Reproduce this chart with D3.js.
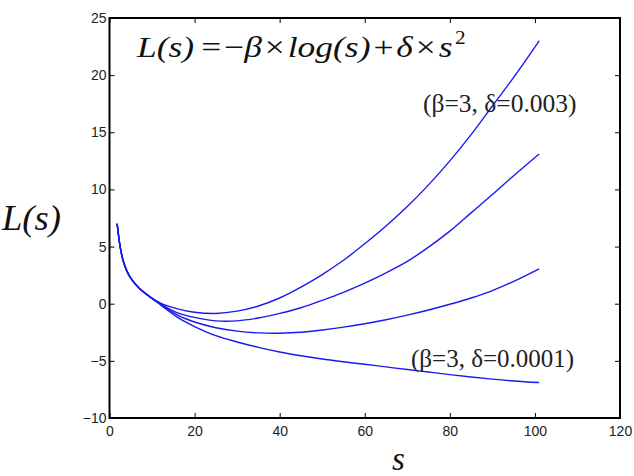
<!DOCTYPE html>
<html>
<head>
<meta charset="utf-8">
<script src="https://cdn.jsdelivr.net/npm/d3@7"></script>
<style>
body { margin: 0; background: #fff; }
</style>
</head>
<body>
<svg id="d3svg" width="634" height="476"></svg>
<script>
// values
var s_values = [1.8, 2.5, 3.3, 4.8, 7, 9.5, 12, 16, 20, 25, 30, 35, 40, 45, 50, 55, 60, 65, 70, 75, 80, 85, 90, 95, 101];
var L_d003  = [7.0, 5.0, 3.65, 2.35, 1.35, 0.6, 0.05, -0.45, -0.75, -0.85, -0.65, -0.2, 0.5, 1.45, 2.55, 3.8, 5.25, 6.8, 8.5, 10.4, 12.5, 14.8, 17.3, 19.8, 23.0];
var L_d002  = [7.0, 5.0, 3.65, 2.35, 1.35, 0.6, 0.0, -0.8, -1.2, -1.5, -1.5, -1.25, -0.85, -0.35, 0.3, 1.0, 1.8, 2.7, 3.7, 4.95, 6.35, 7.95, 9.55, 11.2, 13.1];
var L_d001  = [7.0, 5.0, 3.65, 2.35, 1.35, 0.6, -0.05, -1.0, -1.6, -2.1, -2.4, -2.55, -2.58, -2.5, -2.3, -2.05, -1.75, -1.4, -1.0, -0.55, -0.05, 0.5, 1.15, 1.95, 3.05];
var L_d0001 = [7.0, 5.0, 3.65, 2.35, 1.35, 0.6, -0.1, -1.2, -2.0, -2.8, -3.35, -3.82, -4.22, -4.55, -4.84, -5.08, -5.3, -5.53, -5.76, -5.98, -6.2, -6.41, -6.6, -6.76, -6.9];
var x_ticks = [0, 20, 40, 60, 80, 100, 120];
var y_ticks = [-10, -5, 0, 5, 10, 15, 20, 25];
var label_top = "(\u03b2=3, \u03b4=0.003)";
var label_bottom = "(\u03b2=3, \u03b4=0.0001)";

var curve_color = '#1a1aee';
var serif = "Liberation Serif, Times New Roman, serif";

var svg = d3.select("#d3svg"),
    plotL = 109.5, plotR = 620, plotT = 18, plotB = 418;

var x = d3.scaleLinear().domain([0, 120]).range([plotL, plotR]);
var y = d3.scaleLinear().domain([-10, 25]).range([plotB, plotT]);

var lineFunction = d3.line()
    .x(function(d) { return x(d[0]); })
    .y(function(d) { return y(d[1]); })
    .curve(d3.curveCatmullRom.alpha(0.5));

[L_d003, L_d002, L_d001, L_d0001].forEach(function(series) {
    svg.append("path")
        .attr("d", lineFunction(s_values.map(function(s, i) { return [s, series[i]]; })))
        .attr("stroke", curve_color)
        .attr("stroke-width", 1.4)
        .attr("fill", "none");
});

// axes, ticks pointing inward on all four sides
var tickFont = function(g) {
    g.select(".domain").remove();
    g.selectAll("line").attr("stroke", "#000").attr("stroke-width", 1);
    g.selectAll("text").attr("font-family", "Liberation Sans, Arial, sans-serif")
        .attr("font-size", 14).attr("fill", "#222");
};
svg.append("g").attr("transform", "translate(0," + plotB + ")")
    .call(d3.axisBottom(x).tickValues(x_ticks).tickSize(-5).tickPadding(8))
    .call(tickFont);
svg.append("g").attr("transform", "translate(0," + plotT + ")")
    .call(d3.axisTop(x).tickValues(x_ticks).tickSize(-5).tickFormat(""))
    .call(tickFont);
svg.append("g").attr("transform", "translate(" + plotL + ",0)")
    .call(d3.axisLeft(y).tickValues(y_ticks).tickSize(-5).tickPadding(3))
    .call(tickFont);
svg.append("g").attr("transform", "translate(" + plotR + ",0)")
    .call(d3.axisRight(y).tickValues(y_ticks).tickSize(-5).tickFormat(""))
    .call(tickFont);

svg.append("rect")
    .attr("x", plotL).attr("y", plotT)
    .attr("width", plotR - plotL).attr("height", plotB - plotT)
    .attr("fill", "none").attr("stroke", "#000").attr("stroke-width", 2);

// stretch a text horizontally so it spans a given width
function fitWidth(t, x0, y0, w) {
    var bw = t.node().getBBox().width;
    t.attr("transform", "translate(" + x0 + "," + y0 + ") scale(" + (w / bw) + ",1)");
}

// formula
var f = svg.append("text")
    .attr("font-family", serif)
    .attr("font-size", 30).attr("fill", "#111");
var parts = [["L(s)", 1], ["\u2009=\u200a\u2212", 0], ["\u03b2", 1], ["\u200a\u00d7\u200a", 0],
             ["log(s)", 1], ["\u200a+\u200a", 0], ["\u03b4", 1], ["\u200a\u00d7\u200a", 0], ["s", 1]];
parts.forEach(function(p) {
    f.append("tspan").text(p[0]).attr("font-style", p[1] ? "italic" : "normal");
});
f.append("tspan").text("2").attr("dy", -13).attr("dx", 2).attr("font-size", 18);
fitWidth(f, 137, 57, 330);

svg.append("text").attr("x", 423).attr("y", 112)
    .attr("font-family", serif)
    .attr("font-size", 25.5).attr("fill", "#222").text(label_top);
svg.append("text").attr("x", 411).attr("y", 367)
    .attr("font-family", serif)
    .attr("font-size", 25).attr("fill", "#222").text(label_bottom);

// axis titles
var yl = svg.append("text")
    .attr("font-family", serif)
    .attr("font-style", "italic").attr("font-size", 35).attr("fill", "#111").text("L(s)");
fitWidth(yl, 2, 230, 60);
svg.append("text").attr("x", 392).attr("y", 470)
    .attr("font-family", serif)
    .attr("font-style", "italic").attr("font-size", 33).attr("fill", "#111").text("s");
</script>
</body>
</html>
